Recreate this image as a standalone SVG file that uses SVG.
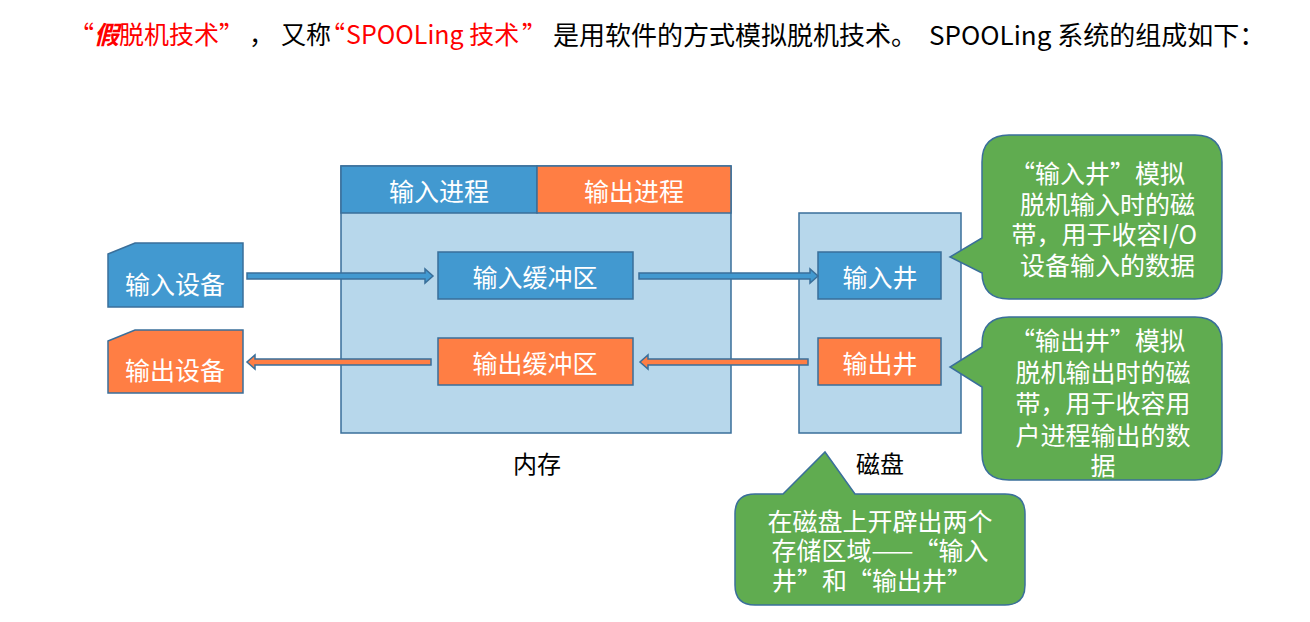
<svg xmlns="http://www.w3.org/2000/svg" width="1310" height="622" viewBox="0 0 1310 622">
<style>
  text { font-family: "Noto Sans CJK SC", "Liberation Sans", sans-serif; }
  .w { fill: #ffffff; font-size: 25px; text-anchor: middle; dominant-baseline: central; }
  .c { fill: #ffffff; font-size: 25px; text-anchor: middle; dominant-baseline: central; }
  .k { fill: #000000; font-size: 24px; text-anchor: middle; dominant-baseline: central; }
  .blue { fill: #4299D0; stroke: #3A6F9A; stroke-width: 1.5; }
  .orange { fill: #FF7E44; stroke: #3A6F9A; stroke-width: 1.5; }
  .light { fill: #B7D7EB; stroke: #3A6F9A; stroke-width: 1.5; }
  .green { fill: #60AC50; stroke: #3A6F9A; stroke-width: 1.5; }
  .title { font-size: 25px; fill: #000000; }
  .red { fill: #FF0000; }
  .big { font-size: 26px; }
</style>

<text class="title" y="33" dominant-baseline="central"><tspan class="red" x="69">“</tspan><tspan class="red" x="94" font-style="italic" font-weight="bold">假</tspan><tspan class="red">脱机技术</tspan><tspan class="red" x="219">”</tspan><tspan x="249">，</tspan><tspan x="281">又称</tspan><tspan class="red" x="320">“</tspan><tspan class="red" x="346">SPOOLing 技术</tspan><tspan class="red" x="522">”</tspan><tspan class="big" x="553">是用软件的方式模拟脱机技术。</tspan><tspan class="big" x="929">SPOOLing 系统的组成如下：</tspan></text>

<g id="memory">
  <rect class="light" x="341" y="166" width="390" height="267"/>
  <text class="k" x="537" y="462">内存</text>
</g>
<g id="input-process">
  <rect class="blue" x="341" y="166" width="196" height="47"/>
  <text class="w" x="439" y="190">输入进程</text>
</g>
<g id="output-process">
  <rect class="orange" x="537" y="166" width="194" height="47"/>
  <text class="w" x="634" y="190">输出进程</text>
</g>
<g id="disk">
  <rect class="light" x="799" y="213" width="162" height="220"/>
  <text class="k" x="880" y="462">磁盘</text>
</g>
<g id="input-buffer">
  <rect class="blue" x="438" y="252" width="195" height="47"/>
  <text class="w" x="535" y="276">输入缓冲区</text>
</g>
<g id="output-buffer">
  <rect class="orange" x="438" y="338" width="195" height="47"/>
  <text class="w" x="535" y="362">输出缓冲区</text>
</g>
<g id="input-well">
  <rect class="blue" x="818" y="252" width="123" height="47"/>
  <text class="w" x="880" y="276">输入井</text>
</g>
<g id="output-well">
  <rect class="orange" x="818" y="338" width="123" height="47"/>
  <text class="w" x="880" y="362">输出井</text>
</g>
<g id="input-device">
  <path class="blue" d="M108,254 L135,243 L243,243 L243,307 L108,307 Z"/>
  <text class="w" x="175" y="283">输入设备</text>
</g>
<g id="output-device">
  <path class="orange" d="M108,341 L135,330 L243,330 L243,393 L108,393 Z"/>
  <text class="w" x="175" y="369">输出设备</text>
</g>

<g id="connectors">
  <polygon class="blue" points="247,273 425,273 425,269 433,276 425,283 425,279 247,279"/>
  <polygon class="blue" points="639,273 810,273 810,269 818,276 810,283 810,279 639,279"/>
  <polygon class="orange" points="808,359 648,359 648,355 640,362 648,369 648,365 808,365"/>
  <polygon class="orange" points="431,359 255,359 255,355 247,362 255,369 255,365 431,365"/>
</g>

<g id="callout-input-well">
  <path class="green" d="M1009,135 L1195,135 Q1222,135 1222,162 L1222,272 Q1222,299 1195,299 L1009,299 Q982,299 982,272 L982,273 L950,257 L982,238 L982,162 Q982,135 1009,135 Z"/>
  <text class="c" x="1195" y="172" style="text-anchor:end"><tspan dx="-10">“</tspan>输入井”模拟</text>
  <text class="c" x="1195" y="203" style="text-anchor:end">脱机输入时的磁</text>
  <text class="c" x="1197" y="233" style="text-anchor:end">带，用于收容I/O</text>
  <text class="c" x="1195" y="264" style="text-anchor:end">设备输入的数据</text>
</g>
<g id="callout-output-well">
  <path class="green" d="M1009,317 L1195,317 Q1222,317 1222,344 L1222,453 Q1222,480 1195,480 L1009,480 Q982,480 982,453 L982,387 L950,367 L982,347 L982,344 Q982,317 1009,317 Z"/>
  <text class="c" x="1195" y="339" style="text-anchor:end"><tspan dx="-10">“</tspan>输出井”模拟</text>
  <text class="c" x="1103" y="371">脱机输出时的磁</text>
  <text class="c" x="1103" y="402">带，用于收容用</text>
  <text class="c" x="1103" y="434">户进程输出的数</text>
  <text class="c" x="1103" y="464">据</text>
</g>
<g id="callout-disk">
  <path class="green" d="M755,494 L783,494 L825,452 L855,494 L1005,494 Q1025,494 1025,514 L1025,585 Q1025,605 1005,605 L755,605 Q735,605 735,585 L735,514 Q735,494 755,494 Z"/>
  <text class="c" x="880" y="520">在磁盘上开辟出两个</text>
  <text class="c" x="880" y="549">存储区域——“输入</text>
  <text class="c" x="872" y="579">井”和“输出井”</text>
</g>
</svg>
